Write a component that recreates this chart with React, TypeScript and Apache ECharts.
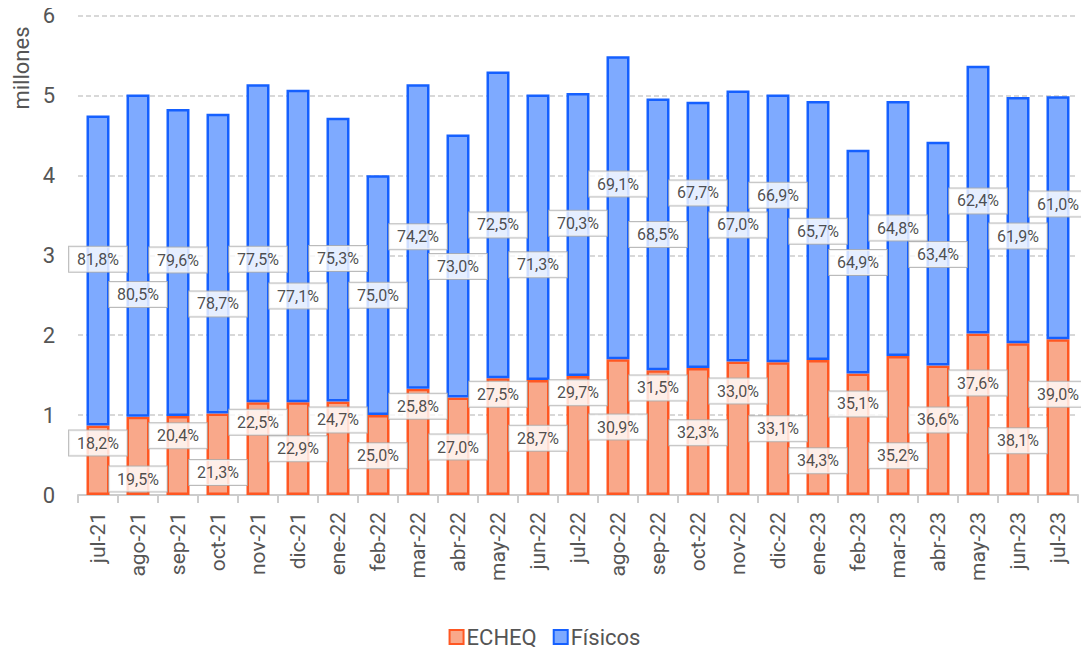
import React, { useEffect, useRef } from "react";
import * as echarts from "echarts";

const categories = ["jul-21","ago-21","sep-21","oct-21","nov-21","dic-21","ene-22","feb-22","mar-22","abr-22","may-22","jun-22","jul-22","ago-22","sep-22","oct-22","nov-22","dic-22","ene-23","feb-23","mar-23","abr-23","may-23","jun-23","jul-23"];

const echeq = [0.87,0.98,0.99,1.02,1.16,1.16,1.17,1.00,1.33,1.22,1.46,1.44,1.49,1.70,1.56,1.59,1.67,1.66,1.69,1.52,1.74,1.62,2.02,1.90,1.95];
const fisicos = [3.88,4.03,3.84,3.75,3.98,3.91,3.55,3.00,3.81,3.29,3.84,3.57,3.54,3.79,3.40,3.33,3.39,3.35,3.24,2.80,3.19,2.80,3.35,3.08,3.04];

const echeqPct = ["18,2%","19,5%","20,4%","21,3%","22,5%","22,9%","24,7%","25,0%","25,8%","27,0%","27,5%","28,7%","29,7%","30,9%","31,5%","32,3%","33,0%","33,1%","34,3%","35,1%","35,2%","36,6%","37,6%","38,1%","39,0%"];
const fisicosPct = ["81,8%","80,5%","79,6%","78,7%","77,5%","77,1%","75,3%","75,0%","74,2%","73,0%","72,5%","71,3%","70,3%","69,1%","68,5%","67,7%","67,0%","66,9%","65,7%","64,9%","64,8%","63,4%","62,4%","61,9%","61,0%"];

// label anchor heights (axis units) — layout of the percentage boxes
const echeqLabelY = [0.65,0.20,0.74,0.28,0.91,0.58,0.94,0.49,1.11,0.60,1.26,0.71,1.28,0.85,1.34,0.78,1.30,0.83,0.43,1.14,0.49,0.94,1.40,0.68,1.26];
const fisicosLabelY = [2.95,2.51,2.94,2.39,2.95,2.49,2.96,2.50,3.23,2.86,3.38,2.88,3.40,3.89,3.26,3.78,3.38,3.75,3.30,2.91,3.34,3.01,3.68,3.24,3.64];

const FONT = "Roboto";

const boxLabel = {
  show: true,
  position: "inside",
  fontFamily: FONT,
  fontSize: 16,
  color: "#222",
  backgroundColor: "#fff",
  borderColor: "#aaa",
  borderWidth: 1,
  padding: [5, 8, 4, 8],
};

export default function App() {
  const ref = useRef<HTMLDivElement>(null);
  useEffect(() => {
    if (!ref.current) return;
    const chart = echarts.init(ref.current, null, { renderer: "svg" });
    chart.setOption({
      animation: false,
      grid: { left: 78, right: 11, top: 15.5, bottom: 160 },
      legend: {
        data: ["ECHEQ", "Físicos"],
        bottom: 2,
        left: "center",
        itemWidth: 14,
        itemHeight: 14,
        itemGap: 16,
        icon: "rect",
        textStyle: { fontFamily: FONT, fontSize: 22, color: "#555", padding: [0, 0, 0, -2] },
      },
      graphic: [
        {
          type: "text",
          x: 21,
          y: 68,
          rotation: Math.PI / 2,
          style: {
            text: "millones",
            fontFamily: FONT,
            fontSize: 22,
            fill: "#555",
            align: "center",
            verticalAlign: "middle",
          },
        },
      ],
      xAxis: {
        type: "category",
        data: categories,
        axisLine: { lineStyle: { color: "#ccc", width: 2 } },
        axisTick: { show: true, length: 8, lineStyle: { color: "#ccc", width: 2 } },
        axisLabel: {
          rotate: 90,
          interval: 0,
          margin: 17,
          fontFamily: FONT,
          fontSize: 21,
          color: "#555",
        },
      },
      yAxis: {
        type: "value",
        min: 0,
        max: 6,
        interval: 1,
        axisLine: { show: false },
        axisTick: { show: false },
        axisLabel: { margin: 23, fontFamily: FONT, fontSize: 22, color: "#555" },
        splitLine: { lineStyle: { color: "#ccc", type: [5, 3], width: 1.5 } },
      },
      series: [
        {
          name: "ECHEQ",
          type: "bar",
          stack: "total",
          barWidth: 23,
          data: echeq,
          itemStyle: { color: "#f9a88a", borderColor: "#ff5722", borderWidth: 2.5 },
        },
        {
          name: "Físicos",
          type: "bar",
          stack: "total",
          barWidth: 23,
          data: fisicos,
          itemStyle: { color: "#7eaaff", borderColor: "#1560ff", borderWidth: 2.5 },
        },
        {
          name: "echeqLabels",
          type: "scatter",
          symbolSize: 0,
          silent: true,
          z: 10,
          data: echeqLabelY.map((y, i) => [i, y]),
          label: { ...boxLabel, formatter: (p: any) => echeqPct[p.dataIndex] },
        },
        {
          name: "fisicosLabels",
          type: "scatter",
          symbolSize: 0,
          silent: true,
          z: 10,
          data: fisicosLabelY.map((y, i) => [i, y]),
          label: { ...boxLabel, formatter: (p: any) => fisicosPct[p.dataIndex] },
        },
      ],
    });
    return () => chart.dispose();
  }, []);
  return <div ref={ref} style={{ width: 1089, height: 655, margin: -8 }} />;
}
